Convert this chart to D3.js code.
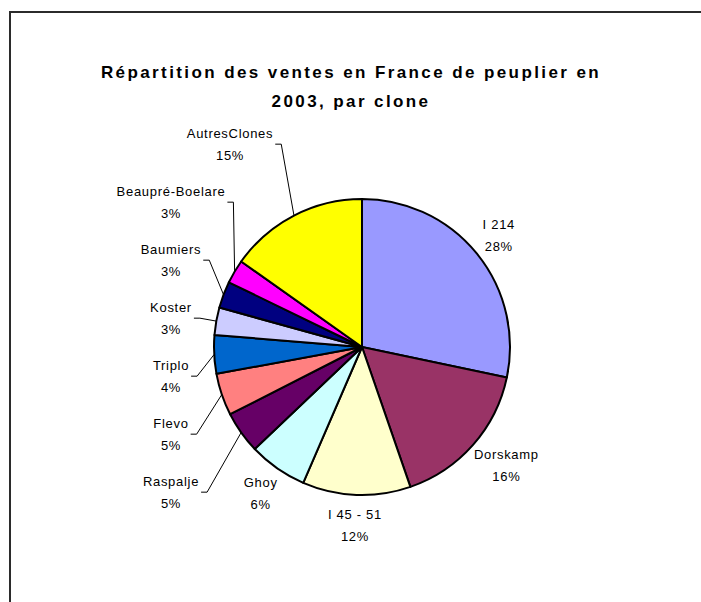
<!DOCTYPE html>
<html>
<head>
<meta charset="utf-8">
<title>Répartition des ventes en France de peuplier en 2003, par clone</title>
<style>
  html, body { margin: 0; padding: 0; background: #fff; overflow: hidden; }
  svg { display: block; }
  .title { font-family: "Liberation Sans", Arial, sans-serif; font-weight: bold; font-size: 17px; letter-spacing: 2.4px; }
  .lbl { font-family: "Liberation Sans", Arial, sans-serif; font-size: 13px; letter-spacing: 0.7px; fill: #000; }
</style>
</head>
<body>
<svg id="chart" width="701" height="602"></svg>
<script src="https://d3js.org/d3.v7.min.js"></script>
<script>
// clones, clockwise from 12 o'clock
const clones = ["I 214", "Dorskamp", "I 45 - 51", "Ghoy", "Raspalje", "Flevo",
                "Triplo", "Koster", "Baumiers", "Beaupré-Boelare", "AutresClones"];
// share of sales (%)
const shares = [28.3, 16.4, 11.8, 6.4, 4.6, 4.6, 4.2, 3.0, 2.9, 2.6, 15.2];
const colors = ["#9999FF", "#993366", "#FFFFCC", "#CCFFFF", "#660066", "#FF8080",
                "#0066CC", "#CCCCFF", "#000080", "#FF00FF", "#FFFF00"];
const titleLines = ["Répartition des ventes en France de peuplier en", "2003, par clone"];

const svg = d3.select("#chart");

// chart frame (runs off the right and bottom)
svg.append("rect")
  .attr("x", 10).attr("y", 12)
  .attr("width", 720).attr("height", 620)
  .attr("fill", "none").attr("stroke", "#2b2b2b").attr("stroke-width", 2);

// title
svg.append("text")
  .attr("class", "title")
  .attr("text-anchor", "middle")
  .selectAll("tspan")
  .data(titleLines)
  .join("tspan")
    .attr("x", 351)
    .attr("y", (d, i) => 78 + i * 29)
    .text(d => d);

const cx = 362, cy = 347, r = 148;
const total = d3.sum(shares);
const fmt = d3.format(".0%");

const pie = d3.pie().sort(null).value(d => d.v);
const arcs = pie(clones.map((c, i) => ({ name: c, v: shares[i], color: colors[i] })));
const arc = d3.arc().innerRadius(0).outerRadius(r);

const g = svg.append("g").attr("transform", `translate(${cx},${cy})`);

g.selectAll("path")
  .data(arcs)
  .join("path")
    .attr("d", arc)
    .attr("fill", d => d.data.color)
    .attr("stroke", "#000")
    .attr("stroke-width", 2)
    .attr("stroke-linejoin", "round");

// labels
const mid = d => (d.startAngle + d.endAngle) / 2;
const lblG = g.append("g");

const labels = arcs.map(d => {
  const t = lblG.append("text").attr("class", "lbl").attr("text-anchor", "middle");
  t.append("tspan").attr("x", 0).attr("dy", -6).text(d.data.name);
  t.append("tspan").attr("x", 0).attr("y", 16).text(fmt(d.data.v / total));
  let w = 0;
  t.selectAll("tspan").each(function () { w = Math.max(w, this.getComputedTextLength()); });
  return { d, t, w, a: mid(d), leader: mid(d) > Math.PI * 1.25 };
});

// labels outside the pie, box edge near the rim
labels.filter(l => !l.leader).forEach(l => {
  const ax = Math.sin(l.a) * (r + 12), ay = -Math.cos(l.a) * (r + 12);
  l.x = ax + Math.sin(l.a) * l.w / 2;
  l.y = ay - Math.cos(l.a) * 18;
});

// left column: stacked labels with leader lines
const stack = labels.filter(l => l.leader)
  .map(l => Object.assign(l, { y0: -Math.cos(l.a) * (r + 30) }))
  .sort((a, b) => a.y0 - b.y0);
const meanY = d3.mean(stack, l => l.y0) - 4;
const gap = 58;
stack.forEach((l, i) => {
  l.y = meanY + (i - (stack.length - 1) / 2) * gap;
  const R = 242;
  const circX = Math.abs(l.y) < R ? -Math.sqrt(R * R - l.y * l.y) : -R;
  l.x = Math.max(-(r + 43), circX);
  const sx = l.x + l.w / 2 + 2;
  const px = Math.sin(l.a) * r, py = -Math.cos(l.a) * r;
  lblG.append("path")
    .attr("d", d3.line()([[sx, l.y], [sx + 6, l.y], [px, py]]))
    .attr("fill", "none").attr("stroke", "#000").attr("stroke-width", 1);
});

labels.forEach(l => l.t.attr("transform", `translate(${l.x},${l.y})`));
</script>
</body>
</html>
